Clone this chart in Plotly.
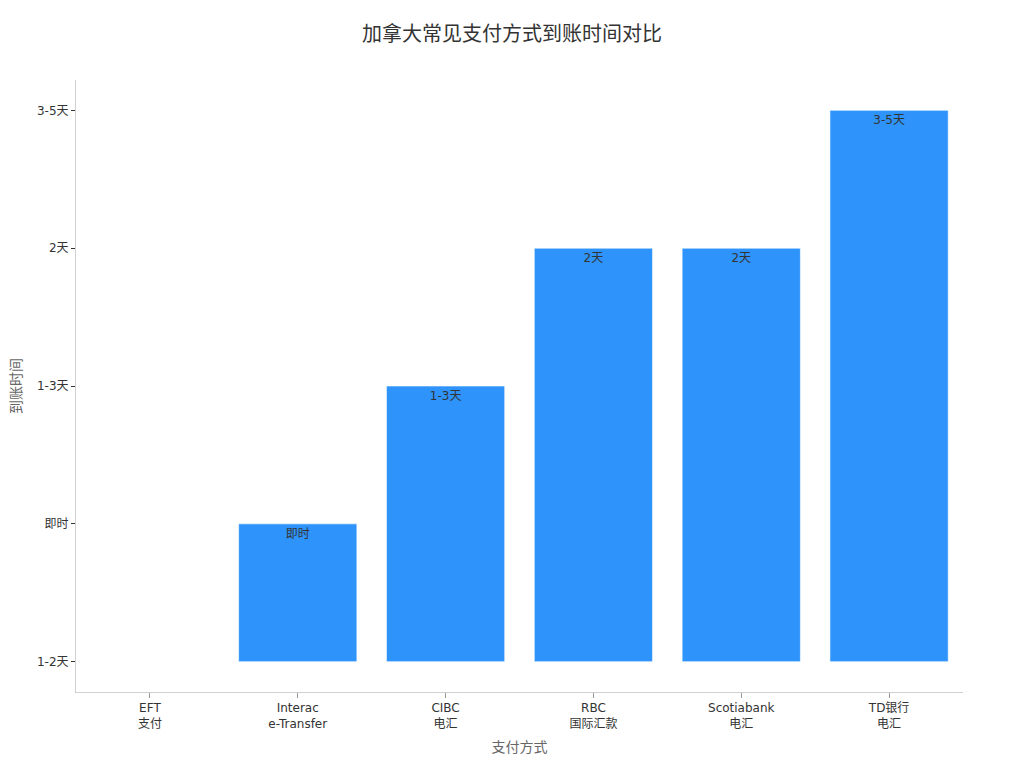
import plotly.graph_objects as go

# categories and values
methods = ["EFT<br>支付", "Interac<br>e-Transfer", "CIBC<br>电汇", "RBC<br>国际汇款", "Scotiabank<br>电汇", "TD银行<br>电汇"]
times = ["1-2天", "即时", "1-3天", "2天", "2天", "3-5天"]
bar_labels = ["1-2天", "即时", "1-3天", "2天", "2天", "3-5天"]
time_order = ["1-2天", "即时", "1-3天", "2天", "3-5天"]

FONT = "DejaVu Sans, Noto Sans CJK SC, sans-serif"

fig = go.Figure(
    go.Bar(
        x=methods,
        y=times,
        text=bar_labels,
        textposition="inside",
        insidetextanchor="end",
        textfont=dict(color="#333333", size=12, family=FONT),
        marker=dict(color="#2E93FA", line=dict(color="rgba(255,255,255,0.6)", width=1)),
        hoverinfo="x+y",
    )
)

fig.update_layout(
    width=1024,
    height=768,
    template="plotly_white",
    font=dict(family=FONT, size=12, color="#333333"),
    title=dict(text="加拿大常见支付方式到账时间对比", x=0.4922, xanchor="center", y=0.975,
               font=dict(size=20, color="#333333")),
    margin=dict(l=68, r=69, t=72, b=84),
    bargap=0.2,
    showlegend=False,
    plot_bgcolor="white",
    paper_bgcolor="white",
)
fig.update_xaxes(
    title=dict(text="支付方式", font=dict(size=14, color="#666666"), standoff=12),
    showgrid=False,
    showline=True,
    linecolor="#d0d0d0",
    ticks="outside",
    tickcolor="#999999",
    ticklen=5,
    tickfont=dict(size=12, color="#333333"),
)
fig.update_yaxes(
    title=dict(text="到账时间", font=dict(size=14, color="#666666"), standoff=16),
    automargin=False,
    type="category",
    categoryorder="array",
    categoryarray=time_order,
    range=[-0.22, 4.22],
    showgrid=False,
    zeroline=False,
    showline=True,
    linecolor="#d0d0d0",
    ticks="outside",
    tickcolor="#333333",
    ticklen=4,
    tickfont=dict(size=12, color="#333333"),
)

fig.write_html("out.html")
